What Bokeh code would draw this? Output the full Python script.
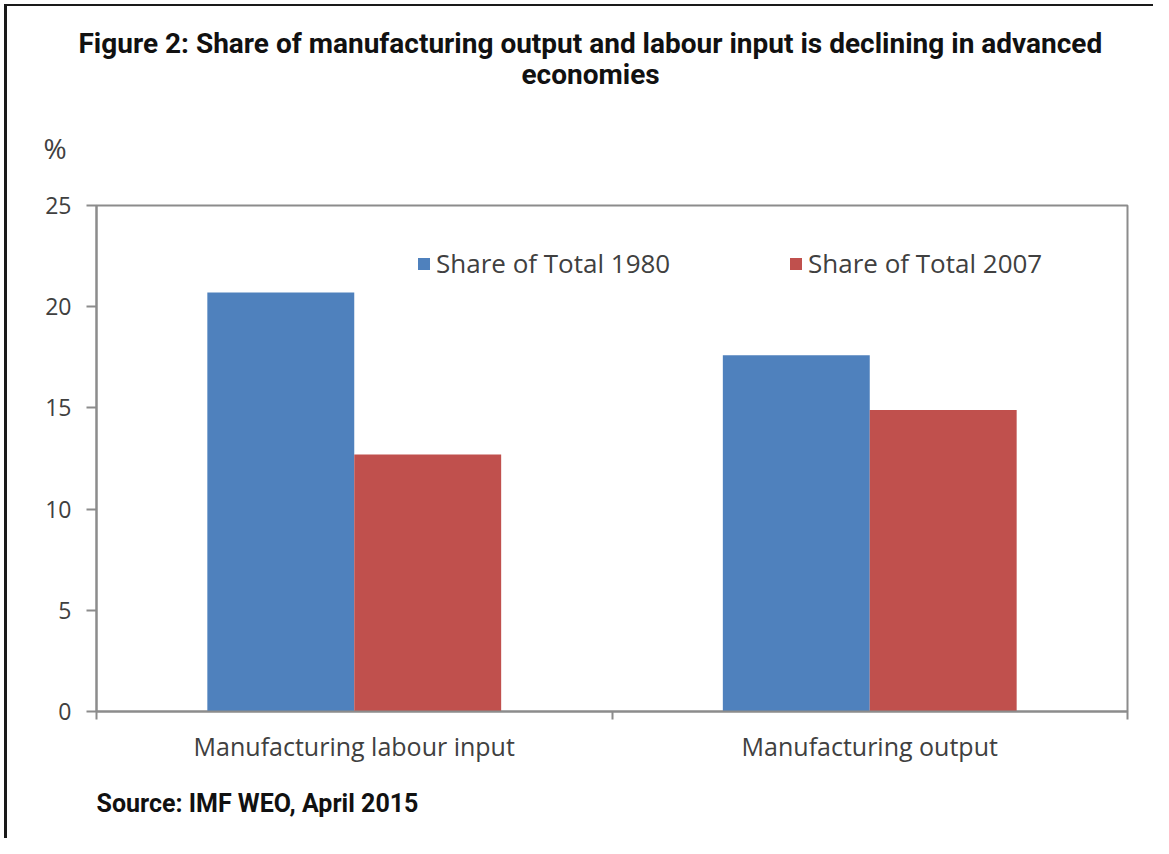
from bokeh.plotting import figure
from bokeh.models import (ColumnDataSource, Range1d, FixedTicker, LinearAxis,
                          Legend, LegendItem, Title)
from bokeh.transform import dodge
from bokeh.embed import file_html
from bokeh.resources import INLINE

# ---- data ----
categories = ["Manufacturing labour input", "Manufacturing output"]
series_names = ["Share of Total 1980", "Share of Total 2007"]
share_1980 = [20.7, 17.6]
share_2007 = [12.7, 14.9]
y_ticks = [0, 5, 10, 15, 20, 25]
title_line1 = "Figure 2: Share of manufacturing output and labour input is declining in advanced"
title_line2 = "economies"
unit_label = "%"
source_note = "Source: IMF WEO, April 2015"

BLUE = "#4F81BD"
RED = "#C0504D"
AXIS = "#8c8c8c"
TXT = "#404040"

pos = [i + 0.5 for i in range(len(categories))]
src = ColumnDataSource(dict(pos=pos, s1980=share_1980, s2007=share_2007))

W, H = 1153, 838
p = figure(width=W, height=H, output_backend="svg", toolbar_location=None,
           x_range=Range1d(0, len(categories)), y_range=Range1d(0, 25),
           x_axis_type=None, y_axis_type=None,
           min_border_left=96, min_border_right=26,
           min_border_top=205, min_border_bottom=127,
           styles={"box-shadow": "inset 4px 4px 0 0 #ffffff, inset 7px 6px 0 0 #1a1a1a"})
p.background_fill_color = "white"
p.border_fill_alpha = 0
p.outline_line_color = AXIS
p.outline_line_width = 2
p.xgrid.visible = False
p.ygrid.visible = False

bw = 0.285
r1 = p.vbar(x=dodge("pos", -bw / 2, range=p.x_range), top="s1980", width=bw,
            source=src, fill_color=BLUE, line_color=None)
r2 = p.vbar(x=dodge("pos", bw / 2, range=p.x_range), top="s2007", width=bw,
            source=src, fill_color=RED, line_color=None)

# y axis
yax = LinearAxis(ticker=FixedTicker(ticks=y_ticks, minor_ticks=[]))
yax.axis_line_color = AXIS
yax.axis_line_width = 2
yax.major_tick_line_color = AXIS
yax.major_tick_line_width = 2
yax.major_tick_out = 10
yax.major_tick_in = 0
yax.major_label_text_font = "Open Sans"
yax.major_label_text_font_size = "23px"
yax.major_label_text_color = TXT
yax.major_label_standoff = 15
p.add_layout(yax, "left")

# x axis: labels at category centres, ticks at category boundaries
xax = LinearAxis(ticker=FixedTicker(ticks=pos,
                                    minor_ticks=list(range(len(categories) + 1))))
xax.major_label_overrides = {pp: c for pp, c in zip(pos, categories)}
xax.axis_line_color = AXIS
xax.axis_line_width = 2
xax.major_tick_line_color = None
xax.minor_tick_line_color = AXIS
xax.minor_tick_line_width = 2
xax.minor_tick_out = 8
xax.minor_tick_in = 0
xax.major_label_text_font = "Open Sans"
xax.major_label_text_font_size = "25px"
xax.major_label_text_color = TXT
xax.major_label_standoff = 9
p.add_layout(xax, "below")

# legends (one per series so each sits where the reference has it)
for r, name, lx in [(r1, series_names[0], 320), (r2, series_names[1], 692)]:
    lg = Legend(items=[LegendItem(label=name, renderers=[r])],
                orientation="horizontal", location=(lx, 430),
                glyph_width=15, glyph_height=15, label_standoff=5, spacing=0,
                padding=0, margin=0, border_line_color=None,
                background_fill_alpha=0,
                label_text_font="Open Sans", label_text_font_size="26px",
                label_text_color=TXT)
    p.add_layout(lg, "center")

# titles above (first added sits nearest the frame)
p.add_layout(Title(text=unit_label, align="left", offset=-53,
                   text_font="Open Sans", text_font_size="28px",
                   text_font_style="normal", text_color=TXT, standoff=77), "above")
p.add_layout(Title(text=title_line2, align="left", offset=425,
                   text_font="Roboto", text_font_size="28px",
                   text_font_style="bold", text_color="#111111", standoff=-5), "above")
p.add_layout(Title(text=title_line1, align="left", offset=-18,
                   text_font="Roboto", text_font_size="28px",
                   text_font_style="bold", text_color="#111111", standoff=-2), "above")

# source note below
p.add_layout(Title(text=source_note, align="left", offset=0,
                   text_font="Roboto", text_font_size="25px",
                   text_font_style="bold", text_color="#111111", standoff=42), "below")

open("out.html", "w").write(file_html(p, INLINE))
